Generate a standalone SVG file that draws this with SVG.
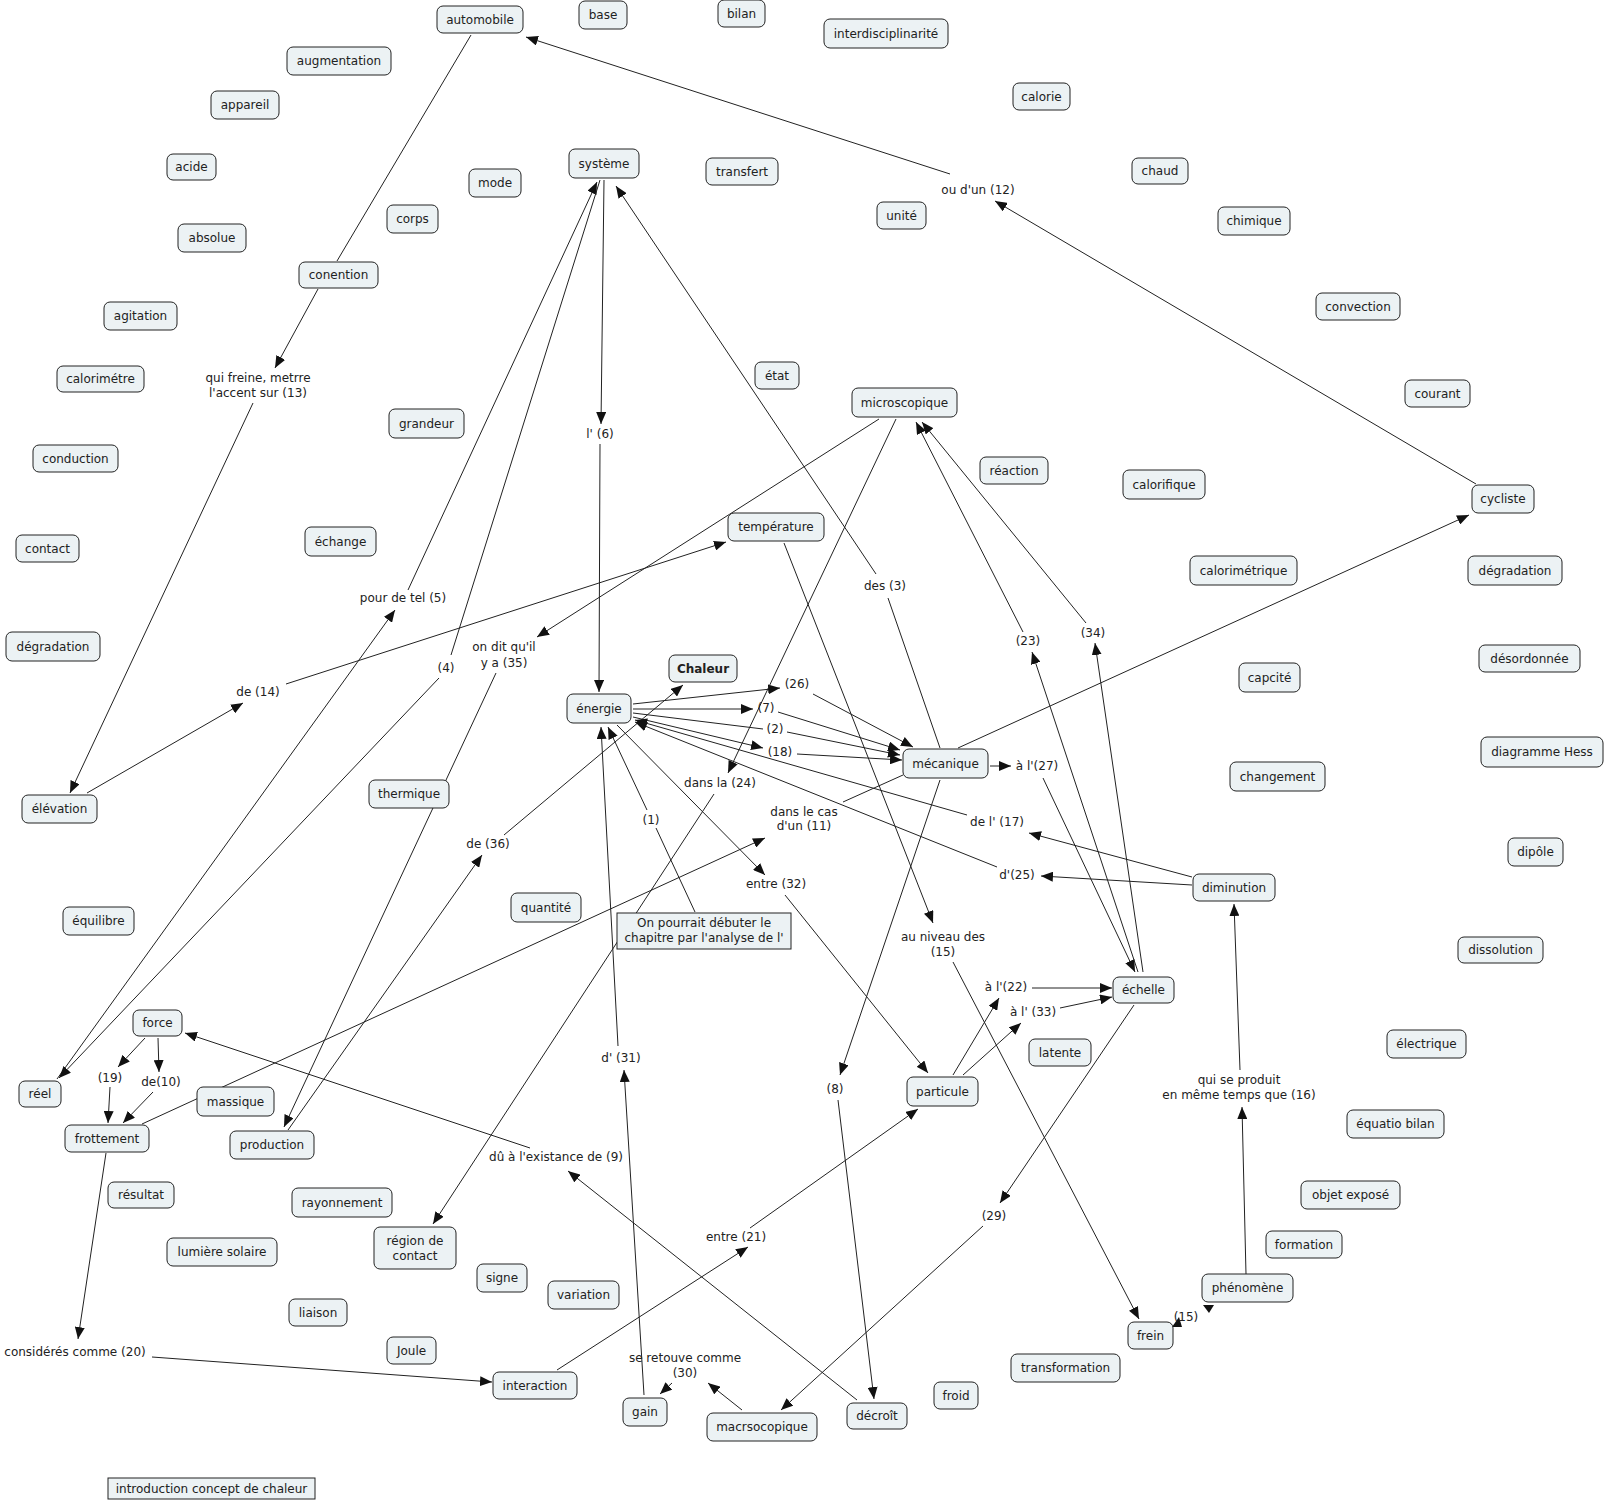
<svg xmlns="http://www.w3.org/2000/svg" width="1606" height="1501" viewBox="0 0 1606 1501">
<style>
.n rect{fill:#ecf2f4;stroke:#222;stroke-width:1}
.n text,.lb text{font-family:"DejaVu Sans",sans-serif;font-size:12px;fill:#222;text-anchor:middle}
.b text{font-weight:bold}
.c path{fill:none;stroke:#222;stroke-width:1}
.c .a{marker-end:url(#ah)}
</style>
<defs>
<marker id="ah" markerWidth="12" markerHeight="10" refX="12" refY="5" orient="auto" markerUnits="userSpaceOnUse"><path d="M0,0 L12,5 L0,10 z" fill="#111"/></marker>
</defs>
<rect width="1606" height="1501" fill="#fff"/>
<g id="connectors" class="c">
<path d="M471,35 L337,261"/>
<path class="a" d="M318,289 L275,368"/>
<path class="a" d="M253,403 L70,793"/>
<path class="a" d="M87,793 L243,703"/>
<path class="a" d="M286,684 L726,542"/>
<path class="a" d="M57,1079 L395,610"/>
<path class="a" d="M408,590 L597,182"/>
<path d="M600,180 L451,655"/>
<path class="a" d="M439,678 L59,1078"/>
<path class="a" d="M604,180 L601,424"/>
<path class="a" d="M600,444 L599,692"/>
<path d="M940,748 L888,598"/>
<path class="a" d="M876,574 L616,186"/>
<path class="a" d="M879,419 L537,637"/>
<path class="a" d="M496,673 L284,1127"/>
<path class="a" d="M288,1130 L482,855"/>
<path class="a" d="M504,835 L683,685"/>
<path class="a" d="M633,704 L780,688"/>
<path class="a" d="M633,709 L753,709"/>
<path d="M633,713 L763,729"/>
<path class="a" d="M633,717 L763,748"/>
<path class="a" d="M813,694 L913,747"/>
<path class="a" d="M778,712 L900,750"/>
<path class="a" d="M787,732 L900,755"/>
<path class="a" d="M797,754 L902,760"/>
<path class="a" d="M967,815 L635,720"/>
<path class="a" d="M997,867 L635,722"/>
<path class="a" d="M1192,877 L1029,833"/>
<path class="a" d="M1192,885 L1041,876"/>
<path d="M695,912 L656,828"/>
<path class="a" d="M647,810 L608,727"/>
<path class="a" d="M617,725 L765,875"/>
<path class="a" d="M785,895 L928,1073"/>
<path class="a" d="M896,419 L728,773"/>
<path class="a" d="M714,794 L433,1224"/>
<path class="a" d="M142,1124 L765,838"/>
<path d="M843,802 L903,775"/>
<path class="a" d="M784,543 L933,923"/>
<path class="a" d="M953,962 L1139,1319"/>
<path class="a" d="M940,780 L840,1075"/>
<path class="a" d="M838,1100 L874,1399"/>
<path class="a" d="M990,766 L1011,766"/>
<path class="a" d="M1043,778 L1135,972"/>
<path class="a" d="M1138,972 L1032,652"/>
<path class="a" d="M1023,632 L916,422"/>
<path class="a" d="M1143,972 L1095,643"/>
<path class="a" d="M1086,623 L922,422"/>
<path class="a" d="M958,748 L1469,515"/>
<path class="a" d="M1476,484 L995,201"/>
<path class="a" d="M950,174 L526,37"/>
<path class="a" d="M953,1075 L999,998"/>
<path class="a" d="M963,1075 L1021,1023"/>
<path class="a" d="M1032,988 L1112,988"/>
<path class="a" d="M1060,1008 L1112,997"/>
<path class="a" d="M1134,1005 L1000,1203"/>
<path class="a" d="M983,1226 L781,1410"/>
<path class="a" d="M557,1370 L748,1247"/>
<path class="a" d="M750,1228 L918,1109"/>
<path class="a" d="M644,1395 L624,1070"/>
<path class="a" d="M618,1046 L601,727"/>
<path class="a" d="M742,1410 L708,1383"/>
<path class="a" d="M672,1383 L660,1394"/>
<path class="a" d="M857,1400 L568,1171"/>
<path class="a" d="M530,1148 L185,1033"/>
<path class="a" d="M145,1038 L118,1067"/>
<path class="a" d="M158,1038 L159,1072"/>
<path class="a" d="M110,1087 L108,1123"/>
<path class="a" d="M153,1092 L123,1123"/>
<path class="a" d="M106,1153 L78,1339"/>
<path class="a" d="M152,1357 L492,1382"/>
<path class="a" d="M1246,1274 L1242,1107"/>
<path class="a" d="M1240,1070 L1234,904"/>
<polygon points="1203,1305 1214,1305 1209,1313" fill="#111"/>
<polygon points="1172,1327 1182,1327 1179,1317" fill="#111"/>
</g>
<g id="labels" class="lb">
<text x="258" y="382">qui freine, metrre</text>
<text x="258" y="397">l'accent sur (13)</text>
<text x="403" y="602">pour de tel (5)</text>
<text x="258" y="696">de (14)</text>
<text x="446" y="672">(4)</text>
<text x="504" y="651">on dit qu'il</text>
<text x="504" y="667">y a (35)</text>
<text x="488" y="848">de (36)</text>
<text x="600" y="438">l' (6)</text>
<text x="885" y="590">des (3)</text>
<text x="1028" y="645">(23)</text>
<text x="1093" y="637">(34)</text>
<text x="978" y="194">ou d'un (12)</text>
<text x="720" y="787">dans la (24)</text>
<text x="651" y="824">(1)</text>
<text x="776" y="888">entre (32)</text>
<text x="804" y="816">dans le cas</text>
<text x="804" y="830">d'un (11)</text>
<text x="1037" y="770">à l'(27)</text>
<text x="997" y="826">de l' (17)</text>
<text x="1017" y="879">d'(25)</text>
<text x="943" y="941">au niveau des</text>
<text x="943" y="956">(15)</text>
<text x="1006" y="991">à l'(22)</text>
<text x="1033" y="1016">à l' (33)</text>
<text x="835" y="1093">(8)</text>
<text x="621" y="1062">d' (31)</text>
<text x="556" y="1161">dû à l'existance de (9)</text>
<text x="736" y="1241">entre (21)</text>
<text x="994" y="1220">(29)</text>
<text x="1239" y="1084">qui se produit</text>
<text x="1239" y="1099">en même temps que (16)</text>
<text x="1186" y="1321">(15)</text>
<text x="685" y="1362">se retouve comme</text>
<text x="685" y="1377">(30)</text>
<text x="75" y="1356">considérés comme (20)</text>
<text x="110" y="1082">(19)</text>
<text x="161" y="1086">de(10)</text>
<text x="797" y="688">(26)</text>
<text x="766" y="712">(7)</text>
<text x="775" y="733">(2)</text>
<text x="780" y="756">(18)</text>
</g>
<g id="n-automobile" class="n"><rect x="437" y="6" width="86" height="27" rx="6"/><text x="480" y="24">automobile</text></g>
<g id="n-base" class="n"><rect x="579" y="1" width="48" height="28" rx="6"/><text x="603" y="19">base</text></g>
<g id="n-bilan" class="n"><rect x="718" y="0" width="47" height="27" rx="6"/><text x="741.5" y="18">bilan</text></g>
<g id="n-interdisciplinarite" class="n"><rect x="824" y="19" width="124" height="29" rx="6"/><text x="886" y="38">interdisciplinarité</text></g>
<g id="n-augmentation" class="n"><rect x="287" y="47" width="104" height="28" rx="6"/><text x="339" y="65">augmentation</text></g>
<g id="n-appareil" class="n"><rect x="211" y="91" width="68" height="28" rx="6"/><text x="245" y="109">appareil</text></g>
<g id="n-calorie" class="n"><rect x="1013" y="83" width="57" height="27" rx="6"/><text x="1041.5" y="101">calorie</text></g>
<g id="n-acide" class="n"><rect x="167" y="154" width="49" height="26" rx="6"/><text x="191.5" y="171">acide</text></g>
<g id="n-systeme" class="n"><rect x="569" y="149" width="70" height="29" rx="6"/><text x="604" y="168">système</text></g>
<g id="n-transfert" class="n"><rect x="706" y="158" width="72" height="27" rx="6"/><text x="742" y="176">transfert</text></g>
<g id="n-chaud" class="n"><rect x="1132" y="158" width="56" height="26" rx="6"/><text x="1160" y="175">chaud</text></g>
<g id="n-mode" class="n"><rect x="469" y="169" width="52" height="28" rx="6"/><text x="495" y="187">mode</text></g>
<g id="n-unite" class="n"><rect x="877" y="202" width="49" height="27" rx="6"/><text x="901.5" y="220">unité</text></g>
<g id="n-corps" class="n"><rect x="387" y="205" width="51" height="28" rx="6"/><text x="412.5" y="223">corps</text></g>
<g id="n-chimique" class="n"><rect x="1218" y="207" width="72" height="28" rx="6"/><text x="1254" y="225">chimique</text></g>
<g id="n-absolue" class="n"><rect x="178" y="224" width="68" height="28" rx="6"/><text x="212" y="242">absolue</text></g>
<g id="n-conention" class="n"><rect x="299" y="262" width="79" height="26" rx="6"/><text x="338.5" y="279">conention</text></g>
<g id="n-convection" class="n"><rect x="1316" y="293" width="84" height="27" rx="6"/><text x="1358" y="311">convection</text></g>
<g id="n-agitation" class="n"><rect x="104" y="302" width="73" height="28" rx="6"/><text x="140.5" y="320">agitation</text></g>
<g id="n-etat" class="n"><rect x="755" y="362" width="44" height="27" rx="6"/><text x="777" y="380">état</text></g>
<g id="n-calorimetre" class="n"><rect x="57" y="366" width="87" height="26" rx="6"/><text x="100.5" y="383">calorimétre</text></g>
<g id="n-courant" class="n"><rect x="1405" y="380" width="65" height="27" rx="6"/><text x="1437.5" y="398">courant</text></g>
<g id="n-microscopique" class="n"><rect x="852" y="388" width="105" height="29" rx="6"/><text x="904.5" y="407">microscopique</text></g>
<g id="n-grandeur" class="n"><rect x="389" y="409" width="75" height="29" rx="6"/><text x="426.5" y="428">grandeur</text></g>
<g id="n-conduction" class="n"><rect x="33" y="445" width="85" height="27" rx="6"/><text x="75.5" y="463">conduction</text></g>
<g id="n-reaction" class="n"><rect x="980" y="457" width="68" height="27" rx="6"/><text x="1014" y="475">réaction</text></g>
<g id="n-calorifique" class="n"><rect x="1123" y="470" width="82" height="29" rx="6"/><text x="1164" y="489">calorifique</text></g>
<g id="n-cycliste" class="n"><rect x="1472" y="485" width="62" height="28" rx="6"/><text x="1503" y="503">cycliste</text></g>
<g id="n-temperature" class="n"><rect x="728" y="513" width="96" height="28" rx="6"/><text x="776" y="531">température</text></g>
<g id="n-echange" class="n"><rect x="305" y="527" width="71" height="29" rx="6"/><text x="340.5" y="546">échange</text></g>
<g id="n-contact" class="n"><rect x="16" y="535" width="63" height="27" rx="6"/><text x="47.5" y="553">contact</text></g>
<g id="n-calorimetrique" class="n"><rect x="1190" y="556" width="107" height="29" rx="6"/><text x="1243.5" y="575">calorimétrique</text></g>
<g id="n-degradation2" class="n"><rect x="1468" y="556" width="94" height="29" rx="6"/><text x="1515" y="575">dégradation</text></g>
<g id="n-degradation1" class="n"><rect x="6" y="632" width="94" height="29" rx="6"/><text x="53" y="651">dégradation</text></g>
<g id="n-desordonnee" class="n"><rect x="1479" y="645" width="101" height="27" rx="6"/><text x="1529.5" y="663">désordonnée</text></g>
<g id="n-chaleur" class="n b"><rect x="669" y="655" width="68" height="27" rx="6"/><text x="703" y="673">Chaleur</text></g>
<g id="n-capcite" class="n"><rect x="1239" y="663" width="61" height="29" rx="6"/><text x="1269.5" y="682">capcité</text></g>
<g id="n-energie" class="n"><rect x="567" y="694" width="64" height="29" rx="6"/><text x="599" y="713">énergie</text></g>
<g id="n-diagrammehess" class="n"><rect x="1481" y="737" width="122" height="30" rx="6"/><text x="1542" y="756">diagramme Hess</text></g>
<g id="n-mecanique" class="n"><rect x="903" y="749" width="85" height="29" rx="6"/><text x="945.5" y="768">mécanique</text></g>
<g id="n-changement" class="n"><rect x="1230" y="762" width="95" height="29" rx="6"/><text x="1277.5" y="781">changement</text></g>
<g id="n-thermique" class="n"><rect x="369" y="780" width="80" height="28" rx="6"/><text x="409" y="798">thermique</text></g>
<g id="n-elevation" class="n"><rect x="22" y="795" width="75" height="28" rx="6"/><text x="59.5" y="813">élévation</text></g>
<g id="n-dipole" class="n"><rect x="1508" y="838" width="55" height="28" rx="6"/><text x="1535.5" y="856">dipôle</text></g>
<g id="n-diminution" class="n"><rect x="1193" y="874" width="82" height="27" rx="6"/><text x="1234" y="892">diminution</text></g>
<g id="n-quantite" class="n"><rect x="511" y="893" width="70" height="29" rx="6"/><text x="546" y="912">quantité</text></g>
<g id="n-equilibre" class="n"><rect x="63" y="907" width="71" height="28" rx="6"/><text x="98.5" y="925">équilibre</text></g>
<g id="n-onpourrait" class="n"><rect x="617" y="913" width="174" height="36"/><text x="704" y="927">On pourrait débuter le</text><text x="704" y="942">chapitre par l'analyse de l'</text></g>
<g id="n-dissolution" class="n"><rect x="1458" y="937" width="85" height="26" rx="6"/><text x="1500.5" y="954">dissolution</text></g>
<g id="n-echelle" class="n"><rect x="1113" y="977" width="61" height="26" rx="6"/><text x="1143.5" y="994">échelle</text></g>
<g id="n-force" class="n"><rect x="133" y="1010" width="49" height="26" rx="6"/><text x="157.5" y="1027">force</text></g>
<g id="n-electrique" class="n"><rect x="1387" y="1030" width="79" height="28" rx="6"/><text x="1426.5" y="1048">électrique</text></g>
<g id="n-latente" class="n"><rect x="1029" y="1039" width="62" height="27" rx="6"/><text x="1060" y="1057">latente</text></g>
<g id="n-particule" class="n"><rect x="907" y="1077" width="71" height="29" rx="6"/><text x="942.5" y="1096">particule</text></g>
<g id="n-reel" class="n"><rect x="19" y="1081" width="42" height="26" rx="6"/><text x="40" y="1098">réel</text></g>
<g id="n-massique" class="n"><rect x="197" y="1087" width="77" height="29" rx="6"/><text x="235.5" y="1106">massique</text></g>
<g id="n-equatiobilan" class="n"><rect x="1347" y="1110" width="97" height="28" rx="6"/><text x="1395.5" y="1128">équatio bilan</text></g>
<g id="n-frottement" class="n"><rect x="65" y="1125" width="84" height="27" rx="6"/><text x="107" y="1143">frottement</text></g>
<g id="n-production" class="n"><rect x="230" y="1131" width="84" height="28" rx="6"/><text x="272" y="1149">production</text></g>
<g id="n-objetexpose" class="n"><rect x="1301" y="1181" width="99" height="28" rx="6"/><text x="1350.5" y="1199">objet exposé</text></g>
<g id="n-resultat" class="n"><rect x="108" y="1182" width="66" height="26" rx="6"/><text x="141" y="1199">résultat</text></g>
<g id="n-rayonnement" class="n"><rect x="292" y="1188" width="100" height="29" rx="6"/><text x="342" y="1207">rayonnement</text></g>
<g id="n-regiondecontact" class="n"><rect x="374" y="1227" width="82" height="42" rx="6"/><text x="415" y="1245">région de</text><text x="415" y="1260">contact</text></g>
<g id="n-formation" class="n"><rect x="1266" y="1231" width="76" height="27" rx="6"/><text x="1304" y="1249">formation</text></g>
<g id="n-lumieresolaire" class="n"><rect x="167" y="1238" width="110" height="28" rx="6"/><text x="222" y="1256">lumière solaire</text></g>
<g id="n-signe" class="n"><rect x="477" y="1264" width="50" height="28" rx="6"/><text x="502" y="1282">signe</text></g>
<g id="n-phenomene" class="n"><rect x="1202" y="1274" width="91" height="28" rx="6"/><text x="1247.5" y="1292">phénomène</text></g>
<g id="n-variation" class="n"><rect x="548" y="1281" width="71" height="28" rx="6"/><text x="583.5" y="1299">variation</text></g>
<g id="n-liaison" class="n"><rect x="289" y="1299" width="58" height="27" rx="6"/><text x="318" y="1317">liaison</text></g>
<g id="n-frein" class="n"><rect x="1128" y="1322" width="45" height="27" rx="6"/><text x="1150.5" y="1340">frein</text></g>
<g id="n-joule" class="n"><rect x="387" y="1337" width="49" height="27" rx="6"/><text x="411.5" y="1355">Joule</text></g>
<g id="n-transformation" class="n"><rect x="1011" y="1354" width="109" height="28" rx="6"/><text x="1065.5" y="1372">transformation</text></g>
<g id="n-interaction" class="n"><rect x="493" y="1372" width="84" height="27" rx="6"/><text x="535" y="1390">interaction</text></g>
<g id="n-froid" class="n"><rect x="934" y="1382" width="44" height="27" rx="6"/><text x="956" y="1400">froid</text></g>
<g id="n-gain" class="n"><rect x="623" y="1398" width="44" height="28" rx="6"/><text x="645" y="1416">gain</text></g>
<g id="n-decroit" class="n"><rect x="847" y="1403" width="60" height="26" rx="6"/><text x="877" y="1420">décroît</text></g>
<g id="n-macrsocopique" class="n"><rect x="707" y="1413" width="110" height="28" rx="6"/><text x="762" y="1431">macrsocopique</text></g>
<g id="n-introduction" class="n"><rect x="108" y="1478" width="207" height="21"/><text x="211.5" y="1493">introduction concept de chaleur</text></g>
</svg>
